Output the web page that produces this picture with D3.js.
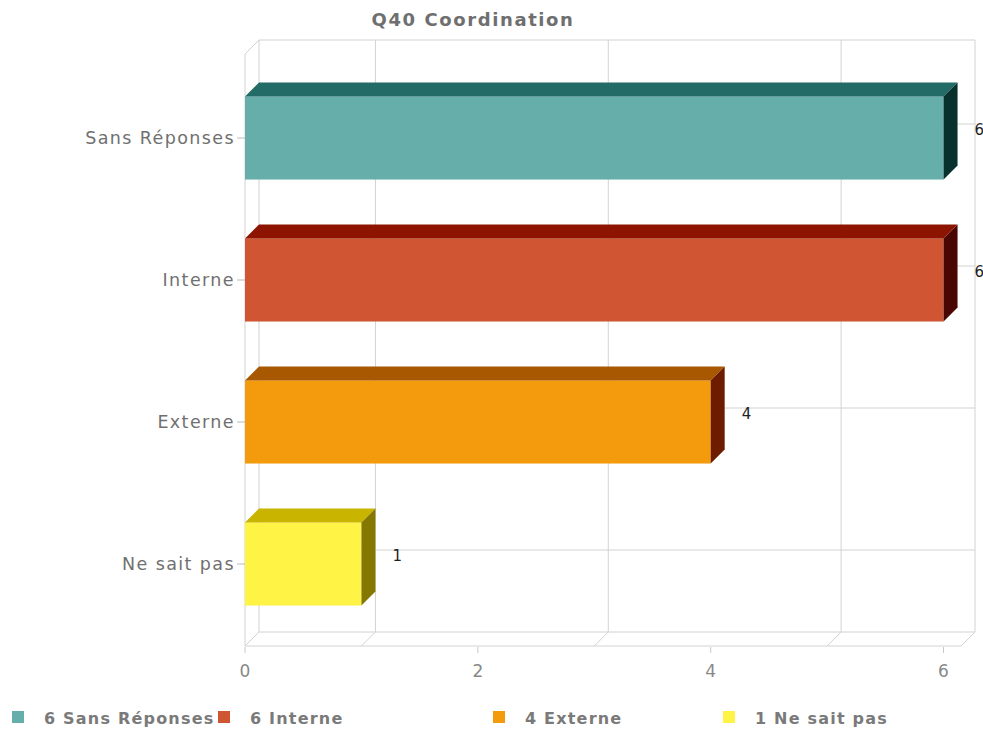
<!DOCTYPE html>
<html>
<head>
<meta charset="utf-8">
<script src="https://cdn.jsdelivr.net/npm/d3@7"></script>
<style>
  html, body { margin: 0; padding: 0; background: #fff; }
  svg { display: block; }
  text { font-family: "DejaVu Sans", "Verdana", sans-serif; }
</style>
</head>
<body>
<svg id="chart" width="983" height="735"></svg>
<script>
// Chart data
const title = "Q40 Coordination";
const categories = ["Sans Réponses", "Interne", "Externe", "Ne sait pas"];
const values = [6, 6, 4, 1];
const xTicks = [0, 2, 4, 6];
const xGrid = [1, 3, 5];
// Face colours per bar: front, top, side
const frontColors = ["#66aea9", "#cf5533", "#f39b0c", "#fff346"];
const topColors = ["#226b66", "#8c1400", "#a85800", "#c9b400"];
const sideColors = ["#08302c", "#4a0600", "#6e1c00", "#857800"];

const svg = d3.select("#chart");

// 3D depth offset of the back plane
const DX = 14, DY = -14;

const x = d3.scaleLinear().domain([0, 6.15]).range([245, 961]);
const y = d3.scaleBand().domain(categories).range([67, 635])
  .paddingInner(0.415).paddingOuter(0.2075);

const frontTop = 54, frontBottom = 646;
const backTop = frontTop + DY, backBottom = frontBottom + DY;
const x0 = x.range()[0], x1 = x.range()[1];
const gridColor = "#d2d2d2";

const grid = svg.append("g").attr("fill", "none").attr("stroke", gridColor).attr("stroke-width", 1);

// back wall outline
grid.append("path").attr("d",
  `M${x0 + DX},${backBottom}V${backTop}H${x1 + DX}V${backBottom}`);
// left wall
grid.append("path").attr("d",
  `M${x0},${frontBottom}V${frontTop}L${x0 + DX},${backTop}`);
// floor
grid.append("path").attr("d",
  `M${x0},${frontBottom}L${x0 + DX},${backBottom}H${x1 + DX}L${x1},${frontBottom}Z`);

// vertical gridlines on back wall and their floor diagonals
xGrid.forEach(v => {
  const xb = x(v) + DX;
  grid.append("line").attr("x1", xb).attr("x2", xb).attr("y1", backTop).attr("y2", backBottom);
  grid.append("line").attr("x1", xb).attr("y1", backBottom).attr("x2", x(v)).attr("y2", frontBottom);
});

// horizontal gridlines on back wall at category centres
categories.forEach(c => {
  const yc = y(c) + y.bandwidth() / 2;
  grid.append("line").attr("x1", x0 + DX).attr("x2", x1 + DX).attr("y1", yc + DY).attr("y2", yc + DY);
  grid.append("line").attr("x1", x0).attr("y1", yc).attr("x2", x0 + DX).attr("y2", yc + DY);
  grid.append("line").attr("x1", x0 - 8).attr("x2", x0).attr("y1", yc).attr("y2", yc).attr("stroke", "#bbb");
});

// x ticks and labels
const xAxis = svg.append("g");
xTicks.forEach(v => {
  xAxis.append("line").attr("x1", x(v)).attr("x2", x(v)).attr("y1", frontBottom + 1).attr("y2", frontBottom + 7)
    .attr("stroke", "#c8c8c8");
  xAxis.append("text").attr("x", x(v)).attr("y", 677).attr("text-anchor", "middle")
    .attr("font-size", 17).attr("fill", "#888")
    .text(v);
});

// category labels
svg.append("g").selectAll("text").data(categories).join("text")
  .attr("x", 235).attr("y", c => y(c) + y.bandwidth() / 2 + 6)
  .attr("text-anchor", "end")
  .attr("font-size", 17.5).attr("letter-spacing", 1.4)
  .attr("fill", "#707070").text(c => c);

// 3D bars
const bars = svg.append("g");
categories.forEach((c, i) => {
  const v = values[i];
  const bx0 = x(0), bx1 = x(v), by = y(c), bh = y.bandwidth();
  const g = bars.append("g");
  g.append("rect").attr("x", bx0).attr("y", by).attr("width", bx1 - bx0).attr("height", bh)
    .attr("fill", frontColors[i]);
  g.append("path").attr("d",
    `M${bx0},${by}L${bx1},${by}L${bx1 + DX},${by + DY}L${bx0 + DX},${by + DY}Z`)
    .attr("fill", topColors[i]);
  g.append("path").attr("d",
    `M${bx1},${by}L${bx1 + DX},${by + DY}L${bx1 + DX},${by + bh + DY}L${bx1},${by + bh}Z`)
    .attr("fill", sideColors[i]);
  // value label
  g.append("text").attr("x", bx1 + DX + 17).attr("y", by + bh / 2 + DY + 11)
    .attr("font-size", 15)
    .attr("fill", "#222").text(v);
});

// title
svg.append("text").attr("x", 473).attr("y", 26).attr("text-anchor", "middle")
  .attr("font-weight", "bold")
  .attr("font-size", 18).attr("letter-spacing", 1.6).attr("fill", "#6f6f6f").text(title);

// legend
const legendX = [12, 218, 493, 723];
const legend = svg.append("g");
categories.forEach((c, i) => {
  legend.append("rect").attr("x", legendX[i]).attr("y", 711).attr("width", 12).attr("height", 12)
    .attr("fill", frontColors[i]);
  legend.append("text").attr("x", legendX[i] + 32).attr("y", 724)
    .attr("font-weight", "bold")
    .attr("font-size", 16).attr("letter-spacing", 1.2).attr("fill", "#7a7a7a").text(`${values[i]} ${c}`);
});
</script>
</body>
</html>
